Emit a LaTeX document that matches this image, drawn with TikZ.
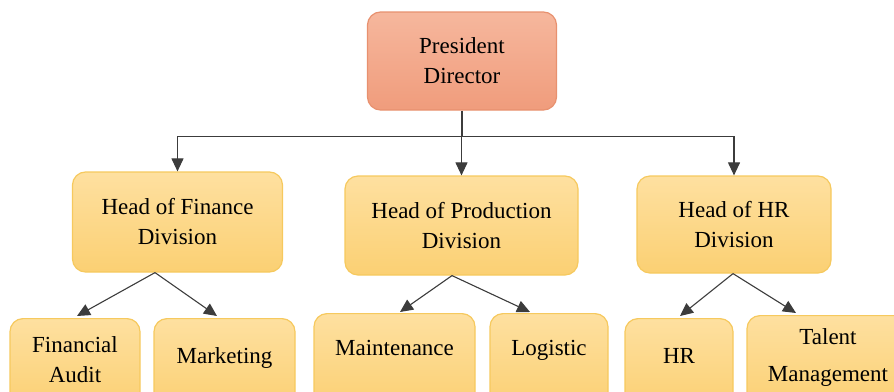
\documentclass[tikz,border=0pt]{standalone}
\usepackage{fontspec}
\setmainfont{Liberation Serif}
\usetikzlibrary{arrows.meta}

\definecolor{presTop}{HTML}{F6B79D}
\definecolor{presBot}{HTML}{F09C7C}
\definecolor{presEdge}{HTML}{E8916F}
\definecolor{unitTop}{HTML}{FEE0A0}
\definecolor{unitBot}{HTML}{FBD073}
\definecolor{unitEdge}{HTML}{F6C95E}
\definecolor{linkGray}{HTML}{3C3C3C}

\tikzset{
  box/.style={rectangle, rounded corners=13pt, line width=1.2pt,
    inner sep=0pt, align=center, font=\fontsize{23}{30}\selectfont},
  presbox/.style={box, draw=presEdge, top color=presTop, bottom color=presBot},
  unitbox/.style={box, draw=unitEdge, top color=unitTop, bottom color=unitBot},
  lbl/.style={inner sep=0pt, align=center, font=\fontsize{23}{30}\selectfont},
  link/.style={draw=linkGray, line width=1.1pt},
  arr/.style={link, -{Triangle[width=12pt,length=13pt]}}
}

\begin{document}
\begin{tikzpicture}[x=1pt, y=-1pt]
  \useasboundingbox (0,0) rectangle (894,391);
  \clip (0,0) rectangle (894,391);

  % top level
  \node[presbox, minimum width=189pt, minimum height=98pt] (pres) at (462,61)
    {President\\Director};

  % division heads
  \node[unitbox, minimum width=210pt, minimum height=100pt] (fin) at (177.5,222)
    {Head of Finance\\Division};
  \node[unitbox, minimum width=233pt, minimum height=99pt] (prod) at (461.5,225.5)
    {Head of Production\\Division};
  \node[unitbox, minimum width=194pt, minimum height=97pt] (hr) at (734,224.5)
    {Head of HR\\Division};

  % units (boxes run past the lower edge)
  \node[unitbox, minimum width=130pt, minimum height=90pt, anchor=north] (aud) at (75,318) {};
  \node[unitbox, minimum width=141pt, minimum height=90pt, anchor=north] (mkt) at (224.5,318) {};
  \node[unitbox, minimum width=161pt, minimum height=95pt, anchor=north] (mnt) at (394.5,313) {};
  \node[unitbox, minimum width=118pt, minimum height=95pt, anchor=north] (log) at (549,313) {};
  \node[unitbox, minimum width=108pt, minimum height=90pt, anchor=north] (hrs) at (679,318) {};
  \node[unitbox, minimum width=162pt, minimum height=92pt, anchor=north] (tal) at (828,315) {};

  % unit names
  \node[lbl] (aud-t) at ([yshift=-41.5pt]aud.north) {Financial\\Audit};
  \node[lbl, anchor=base] (mkt-t) at ([yshift=-45pt]mkt.north) {Marketing};
  \node[lbl, anchor=base] (mnt-t) at ([yshift=-42pt]mnt.north) {Maintenance};
  \node[lbl, anchor=base] (log-t) at ([yshift=-42pt]log.north) {Logistic};
  \node[lbl, anchor=base] (hrs-t) at ([yshift=-45pt]hrs.north) {HR};
  \node[lbl] (tal-t) at ([yshift=-42.5pt]tal.north) {Talent\\[7pt]Management};

  % president to division heads
  \draw[link] (pres.south) -- ++(0,26) coordinate (hub);
  \draw[arr] (hub) -| (fin.north);
  \draw[arr] (hub) -- (prod.north |- hub) -- (prod.north);
  \draw[arr] (hub) -| (hr.north);

  % division heads to units
  \coordinate (finS) at ([xshift=-22.5pt]fin.south);
  \coordinate (prodS) at ([xshift=-9.5pt]prod.south);
  \coordinate (hrS) at ([xshift=-1pt]hr.south);
  \draw[arr] (finS) -- ([xshift=2pt,yshift=2pt]aud.north);
  \draw[arr] (finS) -- ([xshift=-7.5pt,yshift=2pt]mkt.north);
  \draw[arr] (prodS) -- ([xshift=5.5pt,yshift=1pt]mnt.north);
  \draw[arr] (prodS) -- ([xshift=-19pt,yshift=1pt]log.north);
  \draw[arr] (hrS) -- ([xshift=1pt,yshift=2pt]hrs.north);
  \draw[arr] (hrS) -- ([xshift=-32pt,yshift=2pt]tal.north);
\end{tikzpicture}
\end{document}
